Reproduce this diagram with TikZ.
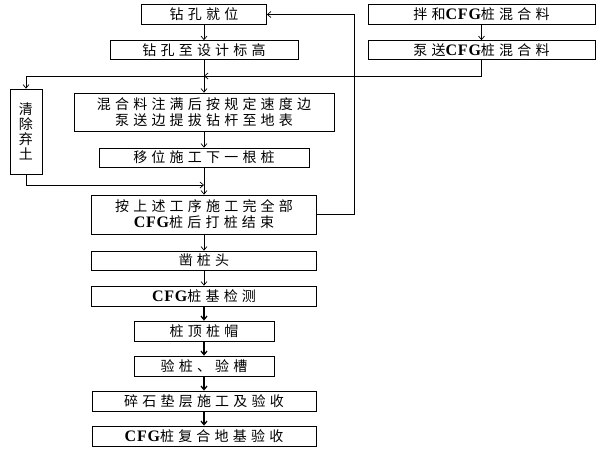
\documentclass[tikz,border=0pt]{standalone}
\usepackage{fontspec}
\setmainfont{Noto Sans CJK SC}[LetterSpace=30]
\newfontfamily\lat{Liberation Serif}[BoldFont={Liberation Serif Bold},LetterSpace=5]
\usetikzlibrary{arrows.meta}
\newcommand\cfgtxt{{\lat\bfseries\fontsize{16}{16}\selectfont CFG}}
\begin{document}
\begin{tikzpicture}[x=1pt,y=-1pt,
 bx/.style={draw,line width=0.8pt,inner sep=0pt,align=center,font=\fontsize{14}{16}\selectfont},
 ar/.style={-{Straight Barb[length=3.5pt,width=6pt]},line width=0.7pt},
 arb/.style={ar,line width=1.3pt}]
\useasboundingbox[fill=white] (0,0) rectangle (600,450);
\node[bx,minimum width=125pt,minimum height=20pt] (b1) at (204,14.5) {钻孔就位};
\node[bx,minimum width=188pt,minimum height=19pt] (b2) at (204,50) {钻孔至设计标高};
\node[bx,minimum width=227pt,minimum height=20pt] (r1) at (481.5,14.5) {拌和\cfgtxt 桩混合料};
\node[bx,minimum width=227pt,minimum height=19pt] (r2) at (481.5,50) {泵送\cfgtxt 桩混合料};
\node[bx,minimum width=32pt,minimum height=85pt,font=\fontsize{14}{15}\selectfont] (c) at (26,131.5) {清\\除\\弃\\土};
\node[bx,minimum width=260pt,minimum height=38pt] (b3) at (204,112) {混合料注满后按规定速度边\\泵送边提拔钻杆至地表};
\node[bx,minimum width=210pt,minimum height=19pt] (b4) at (204,157.5) {移位施工下一根桩};
\node[bx,minimum width=225pt,minimum height=39pt] (b5) at (204,214.5) {按上述工序施工完全部\\\cfgtxt 桩后打桩结束};
\node[bx,minimum width=225pt,minimum height=19pt] (b6) at (204,260.5) {凿桩头};
\node[bx,minimum width=225pt,minimum height=20pt] (b7) at (204,296) {\cfgtxt 桩基检测};
\node[bx,minimum width=140pt,minimum height=20pt] (b8) at (204,331) {桩顶桩帽};
\node[bx,minimum width=140pt,minimum height=20pt] (b9) at (204,366) {验桩、验槽};
\node[bx,minimum width=224pt,minimum height=20pt] (b10) at (204,401) {碎石垫层施工及验收};
\node[bx,minimum width=224pt,minimum height=20pt] (b11) at (204,436) {\cfgtxt 桩复合地基验收};
\coordinate (j1) at (204,76);
\coordinate (j2) at (204,185);
\coordinate (fb) at (354,14.5);
\draw[ar] (b1) -- (b2);
\draw[ar] (b2) -- (b3);
\draw[ar] (r1) -- (r2);
\draw[ar] (r2.south) |- (j1);
\draw[ar] (j1) -| (c.north);
\draw[ar] (b3) -- (b4);
\draw[ar] (b4) -- (b5);
\draw[ar] (c.south) |- (j2);
\draw[ar] (b5.east) -| (fb) -- (b1.east);
\draw[ar] (b5) -- (b6);
\draw[ar] (b6) -- (b7);
\draw[arb] (b7) -- (b8);
\draw[arb] (b8) -- (b9);
\draw[arb] (b9) -- (b10);
\draw[arb] (b10) -- (b11);
\end{tikzpicture}
\end{document}
